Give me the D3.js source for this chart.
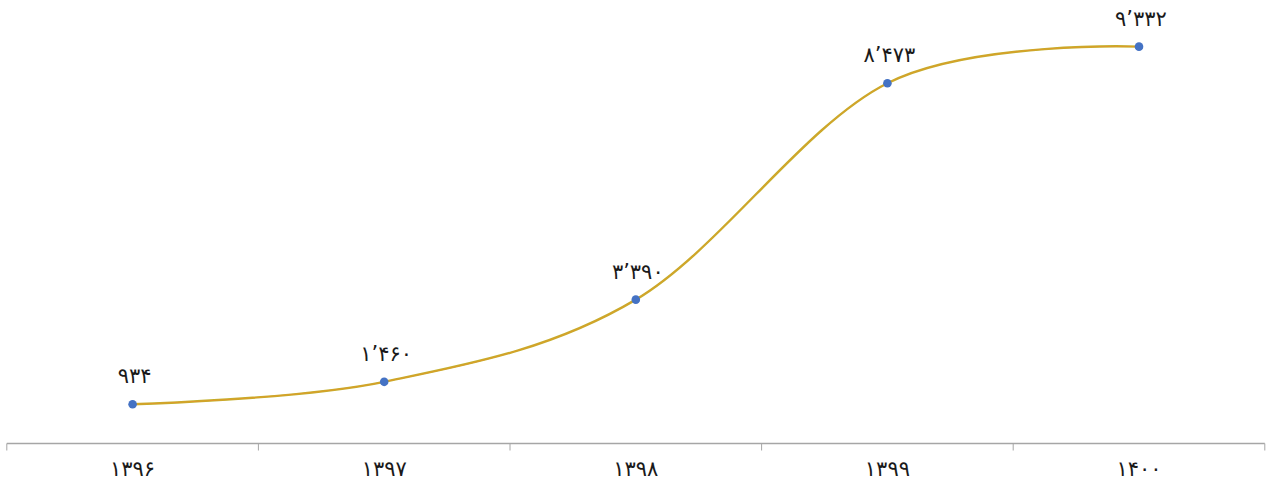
<!DOCTYPE html>
<html><head><meta charset="utf-8">
<script src="https://cdn.jsdelivr.net/npm/d3@7"></script>
<style>
html,body{margin:0;padding:0;background:#fff;}
svg{display:block;}
text{font-family:"DejaVu Sans","Noto Sans",sans-serif;direction:ltr;}
</style></head>
<body><svg id="chart" width="1270" height="486"></svg>
<script>
const categories = ["۱۳۹۶","۱۳۹۷","۱۳۹۸","۱۳۹۹","۱۴۰۰"];
const values = [934, 1460, 3390, 8473, 9332];
const valueLabels = ["۹۳۴","۱’۴۶۰","۳’۳۹۰","۸’۴۷۳","۹’۳۳۲"];

const svg = d3.select("#chart");
const x = d3.scaleBand().domain(categories).range([6.8, 1264.8]);
const y = d3.scaleLinear().domain([0, 10000]).range([444, 18.2]);

const axis = d3.axisBottom(x).tickSize(0).tickPadding(0);
const g = svg.append("g").attr("transform","translate(0,443.5)").call(axis);
g.select(".domain").remove();
g.selectAll(".tick text").remove();
g.append("line").attr("x1",x.range()[0]).attr("x2",x.range()[1]).attr("y1",0).attr("y2",0)
  .attr("stroke","#a6a6a6").attr("stroke-width",1.3);
const bounds = categories.map(c=>x(c)).concat([x.range()[1]]);
g.selectAll(".sep").data(bounds).enter().append("line")
  .attr("x1",d=>d).attr("x2",d=>d).attr("y1",0).attr("y2",7)
  .attr("stroke","#a6a6a6").attr("stroke-width",1);
g.selectAll(".lbl").data(categories).enter().append("text")
  .attr("x",d=>x(d)+x.bandwidth()/2).attr("y",32)
  .attr("text-anchor","middle").attr("font-size",21).attr("letter-spacing",2).attr("fill","#1a1a1a")
  .text(d=>d);

const pts = categories.map((c,i)=>({c, v:values[i], l:valueLabels[i]}));
const line = d3.line().x(d=>x(d.c)+x.bandwidth()/2).y(d=>y(d.v)).curve(d3.curveCardinal.tension(0));
svg.append("path").datum(pts).attr("d",line).attr("fill","none")
  .attr("stroke","#c3b02c").attr("stroke-width",2.4);
svg.append("path").datum(pts).attr("d",line).attr("fill","none")
  .attr("stroke","#df9a2a").attr("stroke-width",1);

svg.selectAll(".dot").data(pts).enter().append("circle")
  .attr("cx",d=>x(d.c)+x.bandwidth()/2).attr("cy",d=>y(d.v)).attr("r",4.3)
  .attr("fill","#4472c4");

svg.selectAll(".vl").data(pts).enter().append("text")
  .attr("x",d=>x(d.c)+x.bandwidth()/2+2).attr("y",d=>y(d.v)-21)
  .attr("text-anchor","middle").attr("font-size",21).attr("letter-spacing",2).attr("fill","#1a1a1a")
  .text(d=>d.l);
</script></body></html>
